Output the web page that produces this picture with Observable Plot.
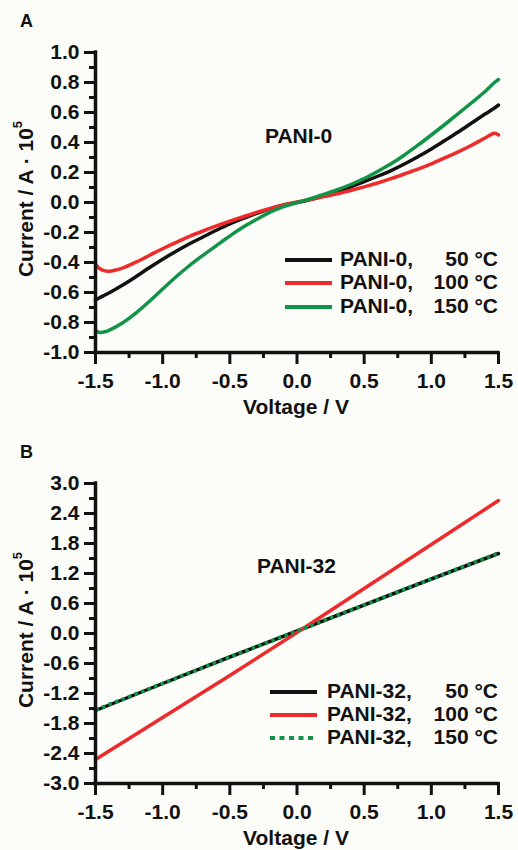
<!DOCTYPE html>
<html><head><meta charset="utf-8">
<script src="https://cdn.jsdelivr.net/npm/d3@7"></script>
<script src="https://cdn.jsdelivr.net/npm/@observablehq/plot@0.6"></script>
<style>
body{margin:0;background:#fcfcf8;font-family:"Liberation Sans",Arial,sans-serif;}
#chart{width:518px;height:850px;position:relative;}
#chart svg{display:block;}
</style></head><body><div id="chart"></div>
<script>
// ---------- Data ----------
const xTicks = [-1.5, -1, -0.5, 0, 0.5, 1, 1.5];
const xMinor = [-1.25, -0.75, -0.25, 0.25, 0.75, 1.25];
const yTicksA = [-1, -0.8, -0.6, -0.4, -0.2, 0, 0.2, 0.4, 0.6, 0.8, 1];
const yMinorA = [-0.9, -0.7, -0.5, -0.3, -0.1, 0.1, 0.3, 0.5, 0.7, 0.9];
const yTicksB = [-3, -2.4, -1.8, -1.2, -0.6, 0, 0.6, 1.2, 1.8, 2.4, 3];
const yMinorB = [-2.7, -2.1, -1.5, -0.9, -0.3, 0.3, 0.9, 1.5, 2.1, 2.7];

const voltA = [-1.5, -1.47, -1.43, -1.4, -1.3, -1.2, -1.1, -1.0, -0.9, -0.8, -0.7, -0.6, -0.5, -0.4, -0.3, -0.2, -0.1, 0, 0.1, 0.2, 0.3, 0.4, 0.5, 0.6, 0.7, 0.8, 0.9, 1.0, 1.1, 1.2, 1.3, 1.4, 1.47, 1.5];
const pani0_50  = [-0.65, -0.635, -0.617, -0.603, -0.552, -0.495, -0.435, -0.378, -0.325, -0.275, -0.23, -0.185, -0.143, -0.106, -0.072, -0.042, -0.017, 0, 0.02, 0.045, 0.074, 0.105, 0.14, 0.175, 0.213, 0.257, 0.305, 0.357, 0.413, 0.47, 0.53, 0.59, 0.63, 0.65];
const pani0_100 = [-0.41, -0.44, -0.456, -0.458, -0.437, -0.398, -0.353, -0.308, -0.266, -0.226, -0.19, -0.156, -0.125, -0.095, -0.066, -0.04, -0.016, 0.004, 0.02, 0.039, 0.058, 0.08, 0.104, 0.13, 0.159, 0.19, 0.222, 0.258, 0.297, 0.338, 0.382, 0.43, 0.462, 0.45];
const pani0_150 = [-0.855, -0.866, -0.862, -0.852, -0.803, -0.737, -0.66, -0.577, -0.495, -0.42, -0.352, -0.287, -0.223, -0.163, -0.112, -0.064, -0.027, 0, 0.025, 0.054, 0.085, 0.12, 0.16, 0.207, 0.258, 0.317, 0.382, 0.45, 0.52, 0.592, 0.665, 0.74, 0.8, 0.82];

const voltB = [-1.5, -1.0, -0.5, 0, 0.5, 1.0, 1.5];
const pani32_50  = [-1.54, -1.0, -0.47, 0.05, 0.57, 1.09, 1.60];
const pani32_100 = [-2.52, -1.68, -0.84, 0.02, 0.90, 1.78, 2.66];
const pani32_150 = [-1.53, -1.0, -0.47, 0.05, 0.57, 1.09, 1.61];

const seriesLabelsA = ["PANI-0,", "PANI-0,", "PANI-0,"];
const seriesLabelsB = ["PANI-32,", "PANI-32,", "PANI-32,"];
const temps = ["50 °C", "100 °C", "150 °C"];
const colors = ["#111111", "#ee2a2a", "#129448"];

// ---------- Helpers ----------
const fmt = d => d.toFixed(1);
const FONT = "'Liberation Sans', Arial, sans-serif";

function rows(v, ys) { return v.map((x, i) => ({x, y: ys[i]})); }

function panel({yDomain, yTicks, yMinor, series, dashed, letter, name, nameX, nameY, legend, marginTop, marginBottom}) {
  const H = 425;
  const lineMarks = series.map((s, i) => Plot.line(s, {
    x: "x", y: "y", stroke: colors[i], strokeWidth: (dashed && i === 2) ? 3.8 : 3.5,
    curve: dashed ? "linear" : "catmull-rom",
    strokeDasharray: (dashed && i === 2) ? "3.5,3.5" : null,
    strokeLinecap: (dashed && i === 2) ? "butt" : "round"
  }));
  const svg = Plot.plot({
    width: 518, height: H,
    marginLeft: 95, marginRight: 20, marginTop, marginBottom,
    x: {domain: [-1.5, 1.5]},
    y: {domain: yDomain},
    style: {background: "transparent", fontFamily: FONT, color: "#111", overflow: "visible"},
    marks: [
      Plot.axisY({ticks: yMinor, tickSize: 6, tickFormat: () => "", strokeWidth: 3, label: null}),
      Plot.axisY({ticks: yTicks, tickSize: 11, tickPadding: 5, tickFormat: fmt, strokeWidth: 3, fontSize: 21, fontWeight: "bold", label: null}),
      Plot.axisX({ticks: xMinor, tickSize: 6, tickFormat: () => "", strokeWidth: 3, label: null}),
      Plot.axisX({ticks: xTicks, tickSize: 12, tickPadding: 9, tickFormat: fmt, strokeWidth: 3, fontSize: 21, fontWeight: "bold", label: null}),
      ...lineMarks,
      Plot.ruleX([-1.5], {strokeWidth: 3.5, strokeLinecap: "square"}),
      Plot.ruleY([yDomain[0]], {strokeWidth: 3.5, strokeLinecap: "square"})
    ]
  });
  const s = d3.select(svg);
  const frameBottom = H - marginBottom;
  const frameMid = (marginTop + frameBottom) / 2;
  const txt = (x, y, size, anchor, t) => s.append("text").attr("x", x).attr("y", y)
    .attr("dominant-baseline", "middle").attr("text-anchor", anchor)
    .attr("font-size", size).attr("font-weight", "bold").attr("fill", "#111").text(t);
  // panel letter
  txt(20, letter.y, 18, "start", letter.t);
  // x title
  txt(296, frameBottom + 56, 21, "middle", "Voltage / V");
  // y title
  const yt = s.append("text").attr("transform", `translate(27,${frameMid - 3}) rotate(-90)`)
    .attr("text-anchor", "middle").attr("dominant-baseline", "middle")
    .attr("font-size", 21).attr("font-weight", "bold").attr("fill", "#111");
  yt.append("tspan").text("Current / A · 10");
  yt.append("tspan").attr("font-size", 13).attr("dy", -8).text("5");
  // sample name
  txt(nameX, nameY, 21, "start", name);
  // legend
  legend.rows.forEach((ry, i) => {
    s.append("line").attr("x1", legend.x1).attr("x2", legend.x2).attr("y1", ry).attr("y2", ry)
      .attr("stroke", colors[i]).attr("stroke-width", 4)
      .attr("stroke-dasharray", (dashed && i === 2) ? "5,4.5" : null);
    txt(legend.tx, ry, 21, "start", legend.labels[i]);
    txt(498, ry, 21, "end", temps[i]);
  });
  return svg;
}

const chart = document.getElementById("chart");
chart.append(panel({
  yDomain: [-1, 1], yTicks: yTicksA, yMinor: yMinorA,
  series: [rows(voltA, pani0_50), rows(voltA, pani0_100), rows(voltA, pani0_150)],
  dashed: false, letter: {t: "A", y: 22}, name: "PANI-0", nameX: 265, nameY: 137,
  legend: {x1: 285, x2: 332, tx: 340, rows: [260, 283, 307], labels: seriesLabelsA},
  marginTop: 52, marginBottom: 73
}));
chart.append(panel({
  yDomain: [-3, 3], yTicks: yTicksB, yMinor: yMinorB,
  series: [rows(voltB, pani32_50), rows(voltB, pani32_100), rows(voltB, pani32_150)],
  dashed: true, letter: {t: "B", y: 28}, name: "PANI-32", nameX: 257, nameY: 142,
  legend: {x1: 270, x2: 317, tx: 327, rows: [267, 290, 313], labels: seriesLabelsB},
  marginTop: 58, marginBottom: 67
}));
</script>
</body></html>
